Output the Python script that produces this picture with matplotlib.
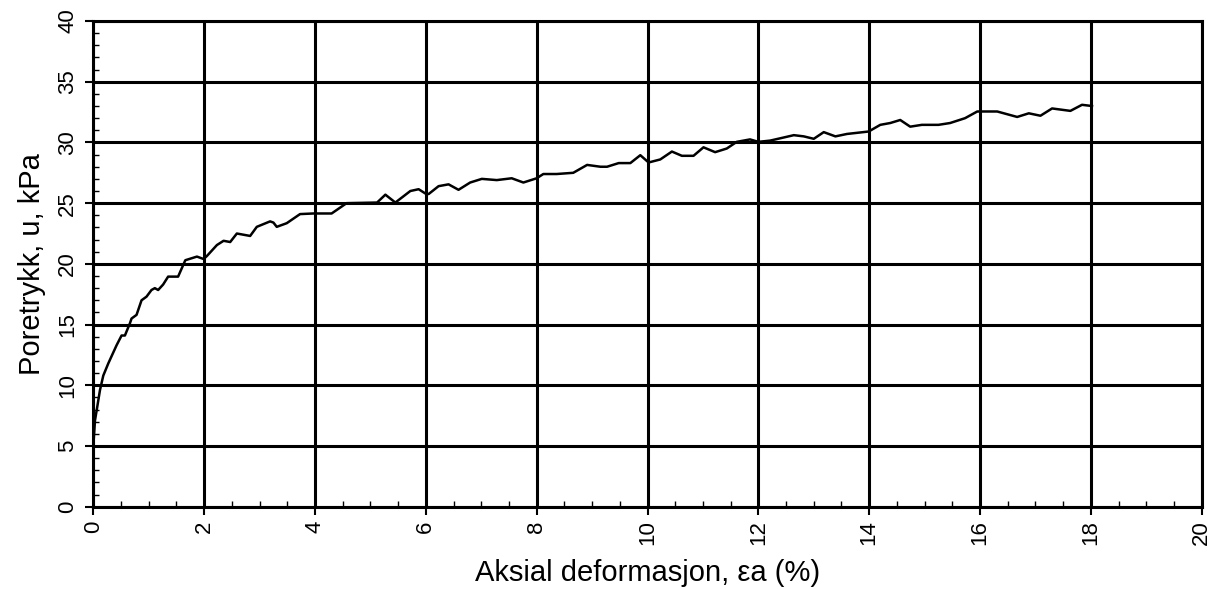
import matplotlib
matplotlib.use("Agg")
import matplotlib.pyplot as plt
from matplotlib.ticker import MultipleLocator

plt.rcParams['font.family'] = ['Liberation Sans', 'DejaVu Sans']

strain = [0.0, 0.03, 0.07, 0.12, 0.18, 0.27, 0.33, 0.42, 0.51, 0.57, 0.66, 0.69, 0.78,
          0.87, 0.96, 1.05, 1.11, 1.17, 1.26, 1.35, 1.53, 1.66, 1.87, 1.99, 2.05, 2.23,
          2.35, 2.47, 2.59, 2.71, 2.83, 2.95, 3.19, 3.25, 3.31, 3.49, 3.73, 3.97, 4.30,
          4.57, 5.12, 5.27, 5.45, 5.72, 5.87, 5.99, 6.05, 6.23, 6.41, 6.59, 6.80, 7.01,
          7.28, 7.55, 7.76, 8.00, 8.12, 8.36, 8.66, 8.91, 9.15, 9.27, 9.48, 9.69, 9.87,
          10.02, 10.23, 10.44, 10.62, 10.83, 11.01, 11.22, 11.43, 11.61, 11.85, 12.00,
          12.21, 12.45, 12.64, 12.82, 13.00, 13.18, 13.39, 13.60, 13.99, 14.20, 14.38,
          14.56, 14.74, 14.95, 15.25, 15.46, 15.73, 15.95, 16.31, 16.67, 16.88, 17.09,
          17.30, 17.63, 17.84, 18.02]
pore_pressure = [5.0, 7.1, 8.2, 9.6, 10.8, 11.8, 12.4, 13.3, 14.1, 14.1, 15.1, 15.5, 15.8,
                 17.0, 17.3, 17.85, 18.0, 17.85, 18.3, 18.95, 18.95, 20.3, 20.6, 20.4, 20.65,
                 21.55, 21.9, 21.8, 22.5, 22.4, 22.3, 23.05, 23.5, 23.4, 23.05, 23.35, 24.1,
                 24.15, 24.15, 25.0, 25.05, 25.7, 25.05, 26.0, 26.15, 25.8, 25.75, 26.4,
                 26.55, 26.1, 26.7, 27.0, 26.9, 27.05, 26.7, 27.05, 27.4, 27.4, 27.5, 28.15,
                 28.0, 28.0, 28.3, 28.3, 28.95, 28.35, 28.6, 29.25, 28.9, 28.9, 29.6, 29.2,
                 29.5, 30.05, 30.25, 30.05, 30.15, 30.4, 30.6, 30.5, 30.3, 30.85, 30.5, 30.7,
                 30.9, 31.45, 31.6, 31.85, 31.3, 31.45, 31.45, 31.6, 32.0, 32.55, 32.55,
                 32.1, 32.4, 32.2, 32.8, 32.6, 33.1, 33.0]

x_ticks = [0, 2, 4, 6, 8, 10, 12, 14, 16, 18, 20]
y_ticks = [0, 5, 10, 15, 20, 25, 30, 35, 40]

fig = plt.figure(figsize=(12.23, 5.89), dpi=100)
ax = fig.add_axes([0.0763, 0.1397, 0.9063, 0.8246])

ax.plot(strain, pore_pressure, color='black', linewidth=1.8, zorder=3)

ax.set_xlim(0, 20)
ax.set_ylim(0, 40)
ax.set_xticks(x_ticks)
ax.set_yticks(y_ticks)
ax.set_xticklabels([str(t) for t in x_ticks], rotation=90, fontsize=16)
ax.set_yticklabels([str(t) for t in y_ticks], rotation=90, fontsize=16, va='center')
ax.xaxis.set_minor_locator(MultipleLocator(0.5))
ax.yaxis.set_minor_locator(MultipleLocator(1))
ax.tick_params(which='major', direction='out', length=6, width=1.5, colors='black')
ax.tick_params(axis='x', which='major', pad=4)
ax.tick_params(axis='y', which='major', pad=5)
ax.tick_params(which='minor', direction='in', length=4, width=1, colors='black')

ax.grid(True, which='major', color='black', linewidth=2.2)
for s in ax.spines.values():
    s.set_linewidth(2.2)
    s.set_color('black')

ax.set_xlabel('Aksial deformasjon, εa (%)', fontsize=21, labelpad=10)
ax.set_ylabel('Poretrykk, u, kPa', fontsize=21, labelpad=8)

fig.savefig('out.png', dpi=100)
